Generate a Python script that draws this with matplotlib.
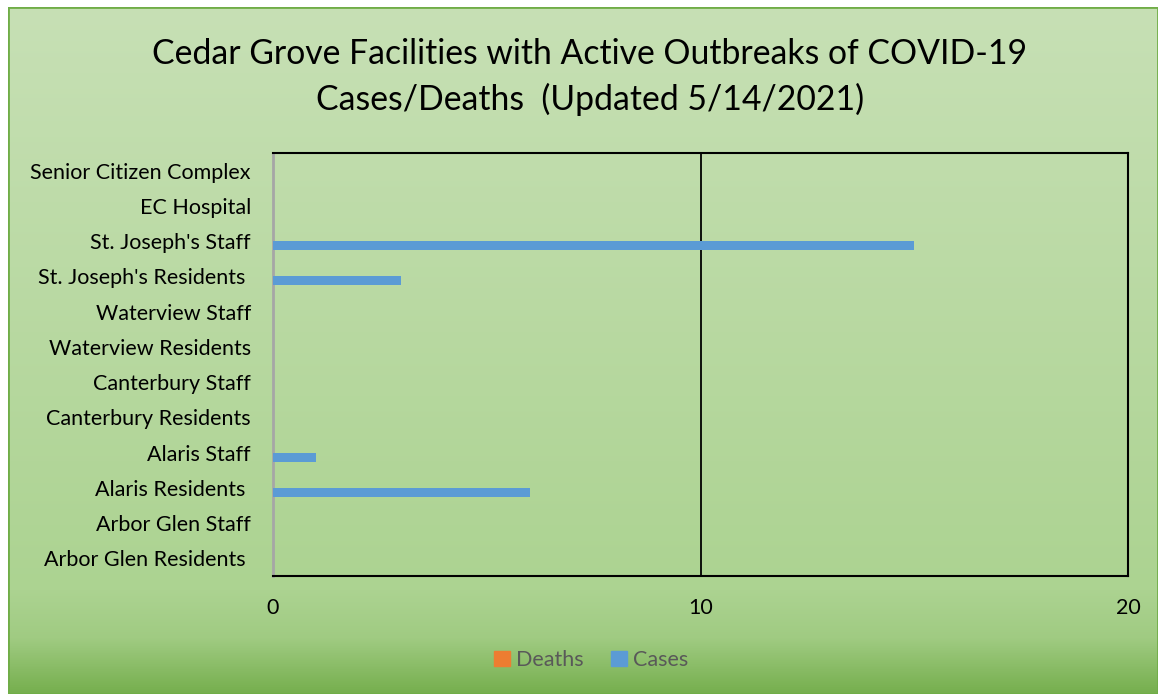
import numpy as np
import matplotlib
matplotlib.use("Agg")
from matplotlib import pyplot as plt
from matplotlib.patches import Rectangle, Patch

facilities = ["Arbor Glen Residents ", "Arbor Glen Staff", "Alaris Residents ",
              "Alaris Staff", "Canterbury Residents", "Canterbury Staff",
              "Waterview Residents", "Waterview Staff", "St. Joseph's Residents ",
              "St. Joseph's Staff", "EC Hospital", "Senior Citizen Complex"]
cases = [0, 0, 6, 1, 0, 0, 0, 0, 3, 15, 0, 0]
deaths = [0, 0, 0, 0, 0, 0, 0, 0, 0, 0, 0, 0]
xticks = [0, 10, 20]

title = "Cedar Grove Facilities with Active Outbreaks of COVID-19\nCases/Deaths  (Updated 5/14/2021)"

plt.rcParams['font.family'] = ['Lato', 'DejaVu Sans']

W, H = 1158, 694
fig = plt.figure(figsize=(W / 100, H / 100), dpi=100)
fig.patch.set_facecolor('white')

# green gradient background with border
bg = fig.add_axes([8 / W, 0, 1 - 8 / W, 1 - 7 / H])
bg.set_axis_off()
t = np.linspace(0, 1, 300)
stops_t = [0.0, 0.85, 0.92, 1.0]
stops_c = np.array([[199, 224, 181], [172, 211, 145], [160, 203, 130], [118, 175, 78]]) / 255
grad = np.stack([np.interp(t, stops_t, stops_c[:, k]) for k in range(3)], axis=1)
bg.imshow(grad[:, None, :], aspect='auto', extent=[0, 1, 0, 1], zorder=0)
bg.add_patch(Rectangle((0, 0), 1, 1, transform=bg.transAxes, fill=False,
                       edgecolor='#70AD47', lw=2, zorder=2))
bg.set_xlim(0, 1)
bg.set_ylim(0, 1)

ax = fig.add_axes([273 / W, 1 - 576 / H, (1128 - 273) / W, (576 - 153) / H])
ax.patch.set_alpha(0)

y = np.arange(len(facilities))
h = 0.255
ax.barh(y + h / 2, deaths, height=h, color='#ED7D31', label='Deaths', zorder=3)
ax.barh(y - h / 2, cases, height=h, color='#5B9BD5', label='Cases', zorder=3)

ax.set_xlim(0, 20)
ax.set_ylim(-0.5, len(facilities) - 0.5)
ax.set_xticks(xticks)
ax.set_xticklabels([str(v) for v in xticks])
ax.set_yticks(y)
ax.set_yticklabels(facilities)
ax.tick_params(axis='both', length=0, labelsize=15.5, colors='black')
ax.tick_params(axis='y', pad=16)
ax.tick_params(axis='x', pad=16)
for v in xticks[1:-1]:
    ax.axvline(v, color='black', lw=1.3, zorder=2)
for s in ['top', 'right', 'bottom']:
    ax.spines[s].set_color('black')
    ax.spines[s].set_linewidth(1.5)
ax.spines['left'].set_color('#A6A6A6')
ax.spines['left'].set_linewidth(2)

fig.text(590 / W, 1 - 77 / H, title, ha='center', va='center', fontsize=24.3,
         linespacing=1.5, color='black')

handles = [Patch(color='#ED7D31'), Patch(color='#5B9BD5')]
fig.legend(handles, ['Deaths', 'Cases'], loc='center', bbox_to_anchor=(591 / W, 1 - 660 / H),
           ncol=2, frameon=False, fontsize=15.5, labelcolor='#595959',
           handlelength=0.75, handleheight=0.75, handletextpad=0.25, columnspacing=1.3)

fig.savefig('out.png', dpi=100)
